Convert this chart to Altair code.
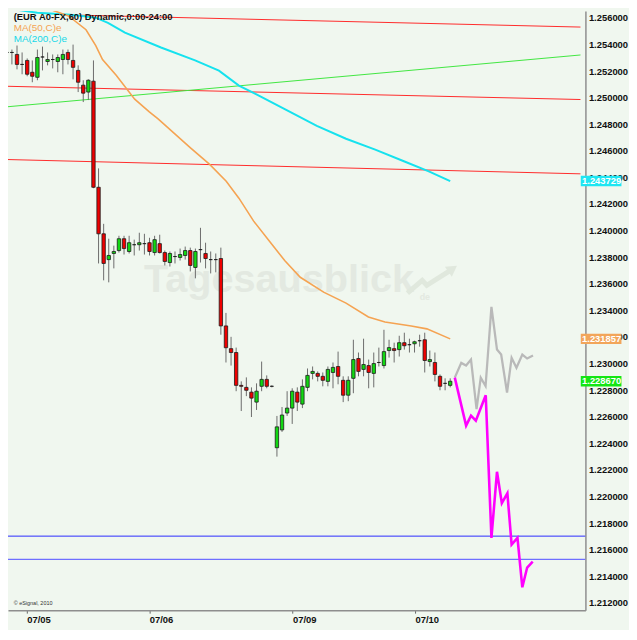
import altair as alt
import pandas as pd

# ---------------- data (EUR A0-FX, 60 min candles) ----------------
opens = [1.25340, 1.25340, 1.25325, 1.25250, 1.25280, 1.25191, 1.25153, 1.25306, 1.25272, 1.25287,
         1.25272, 1.25287, 1.25340, 1.25280, 1.25205, 1.25094, 1.25042, 1.25124, 1.24326, 1.23976,
         1.23782, 1.23828, 1.23850, 1.23939, 1.23843, 1.23894, 1.23894, 1.23902, 1.23909, 1.23835,
         1.23902, 1.23835, 1.23760, 1.23805, 1.23798, 1.23813, 1.23850, 1.23723, 1.23857, 1.23828,
         1.23782, 1.23782, 1.23790, 1.23283, 1.23112, 1.23083, 1.22836, 1.22821, 1.22785, 1.22710,
         1.22829, 1.22881, 1.22829, 1.22367, 1.22501, 1.22628, 1.22665, 1.22785, 1.22695, 1.22821,
         1.22926, 1.22926, 1.22904, 1.22866, 1.22933, 1.22978, 1.22874, 1.22762, 1.22889, 1.23038,
         1.22956, 1.22985, 1.22926, 1.23008, 1.22985, 1.23098, 1.23112, 1.23105, 1.23157, 1.23142,
         1.23149, 1.23172, 1.23179, 1.23015, 1.23008, 1.22904, 1.22851, 1.22836]
highs = [1.25392, 1.25362, 1.25392, 1.25340, 1.25295, 1.25280, 1.25362, 1.25384, 1.25340, 1.25325,
         1.25325, 1.25362, 1.25362, 1.25399, 1.25243, 1.25131, 1.25138, 1.25280, 1.24468, 1.24051,
         1.23939, 1.23887, 1.23961, 1.23961, 1.23961, 1.23932, 1.23984, 1.23976, 1.23946, 1.23961,
         1.23969, 1.23850, 1.23843, 1.23843, 1.23865, 1.23880, 1.23872, 1.23865, 1.24021, 1.23909,
         1.23843, 1.23828, 1.23872, 1.23381, 1.23201, 1.23120, 1.22866, 1.22896, 1.22821, 1.22851,
         1.23015, 1.22911, 1.22836, 1.22606, 1.22673, 1.22792, 1.22814, 1.22821, 1.22881, 1.22963,
         1.22978, 1.22941, 1.22933, 1.22978, 1.23008, 1.23090, 1.22904, 1.22904, 1.23179, 1.23083,
         1.23187, 1.23030, 1.23083, 1.23120, 1.23254, 1.23179, 1.23157, 1.23209, 1.23232, 1.23187,
         1.23172, 1.23217, 1.23232, 1.23098, 1.23083, 1.22918, 1.22889, 1.22889]
lows = [1.25265, 1.25250, 1.25213, 1.25176, 1.25161, 1.25116, 1.25131, 1.25205, 1.25243, 1.25220,
        1.25191, 1.25176, 1.25250, 1.25138, 1.25042, 1.24967, 1.24982, 1.24319, 1.23753, 1.23626,
        1.23611, 1.23716, 1.23835, 1.23820, 1.23828, 1.23813, 1.23850, 1.23820, 1.23813, 1.23813,
        1.23828, 1.23738, 1.23730, 1.23753, 1.23775, 1.23782, 1.23693, 1.23641, 1.23760, 1.23716,
        1.23678, 1.23686, 1.23217, 1.23008, 1.22985, 1.22792, 1.22643, 1.22755, 1.22598, 1.22651,
        1.22792, 1.22814, 1.22821, 1.22300, 1.22486, 1.22606, 1.22546, 1.22643, 1.22665, 1.22792,
        1.22881, 1.22866, 1.22829, 1.22829, 1.22814, 1.22844, 1.22710, 1.22717, 1.22777, 1.22904,
        1.22904, 1.22814, 1.22821, 1.22978, 1.22963, 1.23045, 1.23008, 1.23053, 1.23105, 1.23083,
        1.23083, 1.23127, 1.22933, 1.22978, 1.22866, 1.22799, 1.22799, 1.22821]
closes = [1.25340, 1.25340, 1.25250, 1.25250, 1.25176, 1.25161, 1.25302, 1.25306, 1.25287, 1.25287,
          1.25302, 1.25325, 1.25287, 1.25228, 1.25116, 1.25034, 1.25131, 1.24326, 1.23976, 1.23753,
          1.23813, 1.23843, 1.23939, 1.23865, 1.23909, 1.23894, 1.23909, 1.23902, 1.23843, 1.23932,
          1.23835, 1.23768, 1.23828, 1.23805, 1.23820, 1.23850, 1.23738, 1.23843, 1.23857, 1.23790,
          1.23782, 1.23782, 1.23283, 1.23119, 1.23083, 1.22836, 1.22829, 1.22799, 1.22740, 1.22792,
          1.22881, 1.22829, 1.22829, 1.22524, 1.22613, 1.22665, 1.22792, 1.22710, 1.22829, 1.22911,
          1.22941, 1.22904, 1.22874, 1.22956, 1.22971, 1.22904, 1.22762, 1.22874, 1.23030, 1.22941,
          1.22993, 1.22933, 1.23000, 1.23008, 1.23090, 1.23120, 1.23098, 1.23157, 1.23134, 1.23142,
          1.23164, 1.23172, 1.23023, 1.23030, 1.22918, 1.22829, 1.22851, 1.22867]

# moving averages (bar index, price)
ma50_x = [3.11, 8.27, 12.10, 15.54, 17.45, 18.78, 21.46, 25.09, 27.96, 29.68, 35.98, 39.80, 43.05,
          45.54, 48.40, 51.46, 54.52, 57.58, 62.16, 66.56, 70.95, 74.20, 79.36, 82.42, 87.0]
ma50_y = [1.25712, 1.25667, 1.25615, 1.25511, 1.25392, 1.25287, 1.25168, 1.24989, 1.24893, 1.24840,
          1.24624, 1.24498, 1.24371, 1.24244, 1.24073, 1.23924, 1.23775, 1.23649, 1.23537, 1.23455,
          1.23350, 1.23313, 1.23283, 1.23261, 1.231857]
ma200_x = [-0.32, 5.98, 12.48, 15.15, 17.54, 19.85, 23.18, 30.25, 36.94, 41.62, 45.54, 49.36, 55.57,
           60.83, 66.56, 72.29, 78.03, 82.80, 87.0]
ma200_y = [1.25675, 1.25638, 1.25623, 1.25613, 1.25600, 1.25563, 1.25489, 1.25377, 1.25280, 1.25203,
           1.25091, 1.25017, 1.24893, 1.24788, 1.24691, 1.24609, 1.24520, 1.24446, 1.243729]

# projected paths
gray_x = [87.9, 89.17, 90.12, 91.08, 92.17, 92.99, 93.94, 95.09, 96.18, 97.0, 98.15, 99.05, 100.0,
          101.15, 102.1, 103.25]
gray_y = [1.22894, 1.23005, 1.22985, 1.23030, 1.22658, 1.22894, 1.22831, 1.23427, 1.23105, 1.23068,
          1.22782, 1.23043, 1.22968, 1.23068, 1.23038, 1.23060]
pink_x = [87.9, 90.12, 91.08, 92.03, 93.97, 95.09, 96.18, 97.13, 98.22, 99.05, 100.2, 101.15, 102.1, 103.19]
pink_y = [1.22894, 1.22533, 1.22608, 1.22570, 1.22762, 1.21689, 1.22186, 1.21950, 1.22024, 1.21639,
          1.21689, 1.21317, 1.21466, 1.21511]

# trend lines (start, end)
red_top_x, red_top_y = [14.58, 112.56], [1.25620, 1.25531]
red_mid_x, red_mid_y = [-0.33, 112.56], [1.25086, 1.24986]
red_low_x, red_low_y = [-0.33, 112.56], [1.24535, 1.24427]
green_x, green_y = [-0.33, 112.56], [1.24930, 1.25321]
blue_levels = [1.21702, 1.21527]

# axes
y_ticks = [1.212, 1.214, 1.216, 1.218, 1.220, 1.222, 1.224, 1.226, 1.228, 1.230, 1.232, 1.234,
           1.236, 1.238, 1.240, 1.242, 1.244, 1.246, 1.248, 1.250, 1.252, 1.254, 1.256]
x_tick_pos = [3.9, 27.95, 56.05, 80.1]
x_tick_lab = ["07/05", "07/06", "07/09", "07/10"]

# last-value tags
tag_vals = [1.243729, 1.231857, 1.228670]
tag_text = ["1.243729", "1.231857", "1.228670"]
tag_cols = ["#1ee6f2", "#f2a55a", "#14e614"]

# watermark
wm_x, wm_y = [53.4], [1.23539]
wm_arrow_x = [78.6, 81.5, 82.4, 87.2]
wm_arrow_y = [1.23529, 1.23626, 1.23589, 1.23705]

# ---------------- chart ----------------
XDOM = [1.204, 112.56]
YDOM = [1.21145, 1.25652]
FONT = "Liberation Sans"
BG = "#f0f7ef"

mids = [(a + b) / 2 for a, b in zip(x_tick_pos[:-1], x_tick_pos[1:])]
lab_expr = f"'{x_tick_lab[-1]}'"
for m, lab in reversed(list(zip(mids, x_tick_lab[:-1]))):
    lab_expr = f"datum.value < {m} ? '{lab}' : ({lab_expr})"

X_AXIS = alt.Axis(orient="bottom", values=x_tick_pos, labelExpr=lab_expr, labelAlign="left",
                  labelBaseline="top", labelPadding=1, labelFontSize=9.5, labelFontWeight="bold",
                  labelColor="#111111", labelFont=FONT, tickSize=3, tickColor="#666666",
                  domainColor="#8e8e8e", domainWidth=1.5, grid=False, title=None, labelFlush=False)
Y_AXIS = alt.Axis(orient="right", values=y_ticks, format=".6f", labelFontSize=9.5,
                  labelFontWeight="bold", labelColor="#111111", labelFont=FONT, ticks=False,
                  labelPadding=3, domainColor="#8e8e8e", domainWidth=1.5, grid=False, title=None,
                  labelOverlap=False, labelFlush=False)


def X(field="x"):
    return alt.X(f"{field}:Q", scale=alt.Scale(domain=XDOM, nice=False, zero=False), axis=X_AXIS)


def Y(field="y"):
    return alt.Y(f"{field}:Q", scale=alt.Scale(domain=YDOM, nice=False, zero=False), axis=Y_AXIS)


cdf = pd.DataFrame({"x": list(range(len(opens))), "open": opens, "high": highs,
                    "low": lows, "close": closes})


def line(xs, ys, color, width, dash=None):
    df = pd.DataFrame({"x": xs, "y": ys, "o": list(range(len(xs)))})
    kw = dict(color=color, strokeWidth=width, clip=True, interpolate="linear")
    if dash:
        kw["strokeDash"] = dash
    return alt.Chart(df).mark_line(**kw).encode(x=X(), y=Y(), order="o:Q")


layers = []
# watermark
layers.append(alt.Chart(pd.DataFrame({"x": wm_x, "y": wm_y, "t": ["Tagesausblick"]})).mark_text(
    font=FONT, fontSize=40, fontWeight="bold", color="#e3e9e1", align="center", baseline="alphabetic"
).encode(x=X(), y=Y(), text="t:N"))
layers.append(alt.Chart(pd.DataFrame({"x": [81.0], "y": [1.23475], "t": ["de"]})).mark_text(
    font=FONT, fontSize=9, fontWeight="bold", color="#e3e9e1", align="left", baseline="alphabetic"
).encode(x=X(), y=Y(), text="t:N"))
layers.append(line(wm_arrow_x, wm_arrow_y, "#e0e8dd", 5))
layers.append(alt.Chart(pd.DataFrame({"x": [wm_arrow_x[-1]], "y": [wm_arrow_y[-1]]})).mark_point(
    shape="triangle", filled=True, size=150, angle=55, color="#e0e8dd", opacity=1
).encode(x=X(), y=Y()))

# trend lines
layers.append(line(red_top_x, red_top_y, "#ff2b2b", 1))
layers.append(line(red_mid_x, red_mid_y, "#ff2b2b", 1))
layers.append(line(red_low_x, red_low_y, "#ff2b2b", 1))
layers.append(line(green_x, green_y, "#40e640", 1))
layers.append(line([XDOM[0] - 1, XDOM[1] + 1], [blue_levels[0]] * 2, "#2b2bff", 1))
layers.append(line([XDOM[0] - 1, XDOM[1] + 1], [blue_levels[1]] * 2, "#6f6fff", 1.3))

# moving averages
layers.append(line(ma200_x, ma200_y, "#16e2ee", 2))
layers.append(line(ma50_x, ma50_y, "#f5a352", 1.6))

# candles
layers.append(alt.Chart(cdf).mark_rule(color="#6b6b6b", strokeWidth=1, clip=True).encode(
    x=X(), y=Y("low"), y2="high:Q"))
layers.append(alt.Chart(cdf).mark_bar(size=3.4, stroke="#1c1c1c", strokeWidth=0.8, clip=True).encode(
    x=X(), y=Y("open"), y2="close:Q",
    color=alt.condition("datum.close > datum.open", alt.value("#12d812"), alt.value("#ee0000"))))

# projections
layers.append(line(gray_x, gray_y, "#b9b9b9", 2.3))
layers.append(line(pink_x, pink_y, "#ff00ff", 2.6))

# last value tags on the price axis
TAG_X0, TAG_X1, TAG_H = 112.62, 120.6, 0.00039
tdf = pd.DataFrame({"x": [TAG_X0] * 3, "x2": [TAG_X1] * 3, "y": [v + TAG_H for v in tag_vals],
                    "y2": [v - TAG_H for v in tag_vals], "c": tag_cols, "t": tag_text, "v": tag_vals,
                    "tx": [TAG_X0 + 0.25] * 3})
layers.append(alt.Chart(tdf).mark_rect(clip=False).encode(
    x=X(), x2="x2:Q", y=Y(), y2="y2:Q", color=alt.Color("c:N", scale=None)))
layers.append(alt.Chart(tdf).mark_text(font=FONT, fontSize=9.5, fontWeight="bold", color="white",
                                       align="left", baseline="middle", clip=False).encode(
    x=X("tx"), y=Y("v"), text="t:N"))

# header texts
hdr = pd.DataFrame({"x": [1.35] * 3, "y": [1.25587, 1.25503, 1.25420],
                    "t": ["(EUR A0-FX,60) Dynamic,0:00-24:00", "MA(50,C)e", "MA(200,C)e"]})
layers.append(alt.Chart(hdr.iloc[[0]]).mark_text(font=FONT, fontSize=9.5, fontWeight="bold",
                                                 align="left", baseline="alphabetic", color="#111111"
                                                 ).encode(x=X(), y=Y(), text="t:N"))
layers.append(alt.Chart(hdr.iloc[[1]]).mark_text(font=FONT, fontSize=10, align="left",
                                                 baseline="alphabetic", color="#f5a352"
                                                 ).encode(x=X(), y=Y(), text="t:N"))
layers.append(alt.Chart(hdr.iloc[[2]]).mark_text(font=FONT, fontSize=10, align="left",
                                                 baseline="alphabetic", color="#16d8e8"
                                                 ).encode(x=X(), y=Y(), text="t:N"))
layers.append(alt.Chart(pd.DataFrame({"x": [1.35], "y": [1.21185], "t": ["© eSignal, 2010"]})).mark_text(
    font=FONT, fontSize=5.5, align="left", baseline="alphabetic", color="#333333"
).encode(x=X(), y=Y(), text="t:N"))

chart = alt.layer(*layers).properties(
    width=583, height=605,
    autosize=alt.AutoSizeParams(type="none"),
    padding={"left": 0, "top": 0, "right": 44, "bottom": 17},
).configure(background=BG).configure_view(stroke=None, fill=BG)

chart.save("out.html", embed_options={"renderer": "svg", "actions": False})
